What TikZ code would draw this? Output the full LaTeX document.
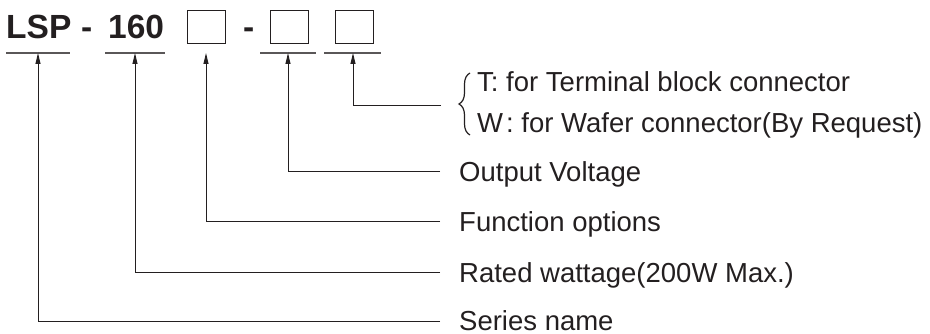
\documentclass[tikz,border=0pt]{standalone}
\usepackage{fontspec}
\setmainfont{Liberation Sans}
\usetikzlibrary{arrows.meta,decorations.pathreplacing}
\definecolor{ink}{HTML}{231F20}
\begin{document}
\begin{tikzpicture}[x=1pt,y=-1pt,
  every node/.style={inner sep=0pt, text=ink},
  title/.style={font=\fontsize{33.5}{36}\selectfont\bfseries, anchor=base west},
  lbl/.style={font=\fontsize{27.5}{30}\selectfont, anchor=base west},
  codebox/.style={draw=ink, line width=1.2pt, minimum width=38pt, minimum height=33pt, anchor=north west},
  uline/.style={draw=ink!75, line width=1.1pt},
  conn/.style={draw=ink, line width=1pt, -{Triangle[length=11pt,width=5pt]}},
  bracestyle/.style={draw=ink, line width=1.2pt, decorate, decoration={brace, amplitude=11pt}}]
\useasboundingbox (0,0) rectangle (930,334);
% title code
\node[title] (lsp) at (6,39) {LSP};
\node[title] (d1) at (81,39) {-};
\node[title] (n160) at (108,39) {160};
\node[codebox] (b1) at (187,10) {};
\node[title] (d2) at (243,39) {-};
\node[codebox] (b2) at (270,10) {};
\node[codebox] (b3) at (335,10) {};
% underlines
\coordinate (l1a) at (6,53);   \coordinate (l1b) at (70,53);
\coordinate (l2a) at (105,53); \coordinate (l2b) at (165,53);
\coordinate (l4a) at (260,53); \coordinate (l4b) at (316,53);
\coordinate (l5a) at (324,53); \coordinate (l5b) at (381,53);
\draw[uline] (l1a) -- (l1b);
\draw[uline] (l2a) -- (l2b);
\draw[uline] (l4a) -- (l4b);
\draw[uline] (l5a) -- (l5b);
% arrow targets
\coordinate (u1) at (38,53);
\coordinate (u2) at (135,53);
\coordinate (u3) at (206,53);
\coordinate (u4) at (288,53);
\coordinate (u5) at (353,53);
% free ends of the leaders
\coordinate (e5) at (441,106);
\coordinate (e4) at (440,172);
\coordinate (e3) at (440,222);
\coordinate (e2) at (440,272);
\coordinate (e1) at (440,321);
% labels
\node[lbl] (t5a) at (477,92) {T: for Terminal block connector};
\node[lbl] (t5b) at (477,133) {W\hspace{3pt}: for Wafer connector(By Request)};
\node[lbl] (t4) at ([shift={(19,10)}]e4) {Output Voltage};
\node[lbl] (t3) at ([shift={(19,10)}]e3) {Function options};
\node[lbl] (t2) at ([shift={(19,10)}]e2) {Rated wattage(200W Max.)};
\node[lbl] (t1) at ([shift={(19,9)}]e1) {Series name};
\coordinate (br1) at (470,135);
\coordinate (br2) at (470,73);
\draw[bracestyle] (br1) -- (br2);
% connectors
\draw[conn] (e5) -| (u5);
\draw[conn] (e4) -| (u4);
\draw[conn] (e3) -| (u3);
\draw[conn] (e2) -| (u2);
\draw[conn] (e1) -| (u1);
\end{tikzpicture}
\end{document}
